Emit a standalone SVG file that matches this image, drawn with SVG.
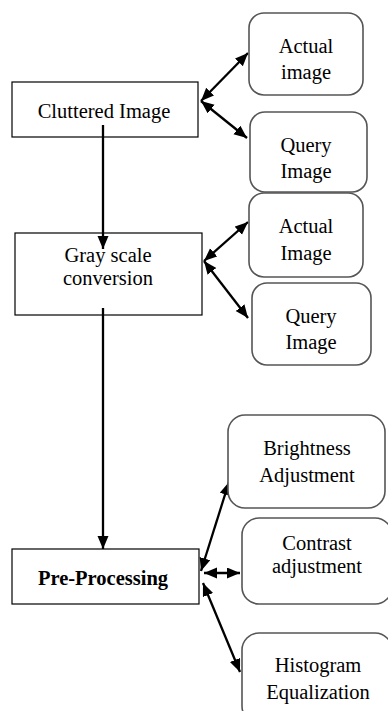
<svg xmlns="http://www.w3.org/2000/svg" width="388" height="711" viewBox="0 0 388 711">
<style>
.box{fill:none;stroke:#000;stroke-width:1.2}
.rbox{fill:#fff;stroke:#555;stroke-width:1.6}
.t{font-family:"Liberation Serif","Times New Roman",serif;font-size:20.5px;fill:#000;text-anchor:middle}
.b{font-weight:bold}
.c{fill:none;stroke:#000;stroke-width:2.3}
</style>
<defs>
<marker id="ah" markerUnits="userSpaceOnUse" markerWidth="14" markerHeight="12" refX="13" refY="5.5" orient="auto-start-reverse" viewBox="0 0 14 12">
<path d="M0,0 L13,5.5 L0,11 z" fill="#000"/>
</marker>
</defs>
<rect width="388" height="711" fill="#fff"/>
<g id="connectors">
<path class="c" d="M103,125 V249" marker-end="url(#ah)"/>
<path class="c" d="M103,308 V549" marker-end="url(#ah)"/>
<path class="c" d="M201,101 L248,53" marker-start="url(#ah)" marker-end="url(#ah)"/>
<path class="c" d="M201,101 L247,138" marker-start="url(#ah)" marker-end="url(#ah)"/>
<path class="c" d="M204,261 L248,222" marker-start="url(#ah)" marker-end="url(#ah)"/>
<path class="c" d="M204,261 L248,318" marker-start="url(#ah)" marker-end="url(#ah)"/>
<path class="c" d="M201,571 L229,482" marker-start="url(#ah)" marker-end="url(#ah)"/>
<path class="c" d="M204,573 L240,573" marker-start="url(#ah)" marker-end="url(#ah)"/>
<path class="c" d="M203,583 L240,672" marker-start="url(#ah)" marker-end="url(#ah)"/>
</g>
<g id="cluttered">
<rect class="box" x="12" y="82" width="186" height="55"/>
<text class="t" x="104" y="118">Cluttered Image</text>
</g>
<g id="actual1">
<rect class="rbox" x="249" y="13" width="114" height="82" rx="15"/>
<text class="t" x="306" y="53">Actual</text>
<text class="t" x="306" y="79">image</text>
</g>
<g id="query1">
<rect class="rbox" x="250" y="112" width="117" height="80" rx="15"/>
<text class="t" x="306" y="152">Query</text>
<text class="t" x="306" y="178">Image</text>
</g>
<g id="gray">
<rect class="box" x="15" y="233" width="187" height="82"/>
<text class="t" x="108" y="262">Gray scale</text>
<text class="t" x="108" y="285">conversion</text>
</g>
<g id="actual2">
<rect class="rbox" x="249" y="193" width="114" height="84" rx="15"/>
<text class="t" x="306" y="233">Actual</text>
<text class="t" x="306" y="260">Image</text>
</g>
<g id="query2">
<rect class="rbox" x="252" y="283" width="119" height="82" rx="15"/>
<text class="t" x="311" y="323">Query</text>
<text class="t" x="311" y="349">Image</text>
</g>
<g id="preprocessing">
<rect class="box" x="12" y="549" width="187" height="55"/>
<text class="t b" x="103" y="585">Pre-Processing</text>
</g>
<g id="brightness">
<rect class="rbox" x="228" y="415" width="157" height="93" rx="17"/>
<text class="t" x="307" y="455">Brightness</text>
<text class="t" x="307" y="482">Adjustment</text>
</g>
<g id="contrast">
<rect class="rbox" x="242" y="518" width="150" height="86" rx="17"/>
<text class="t" x="317" y="550">Contrast</text>
<text class="t" x="317" y="573">adjustment</text>
</g>
<g id="histogram">
<rect class="rbox" x="242" y="633" width="150" height="90" rx="17"/>
<text class="t" x="318" y="672">Histogram</text>
<text class="t" x="318" y="699">Equalization</text>
</g>
</svg>
